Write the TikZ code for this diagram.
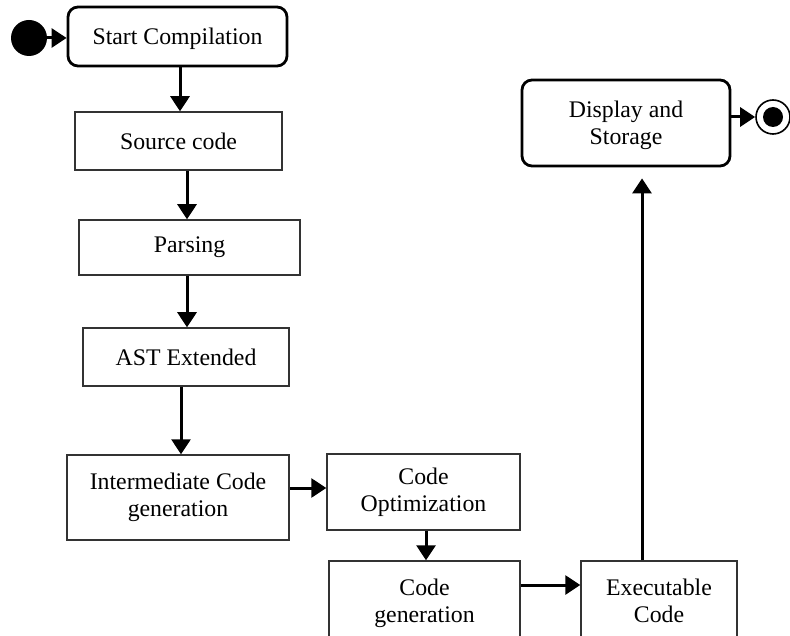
\documentclass[tikz,border=0pt]{standalone}
\usepackage{fontspec}
\setmainfont{Liberation Serif}
\usetikzlibrary{arrows.meta}
\begin{document}
\begin{tikzpicture}[x=1pt,y=-1pt,
  every node/.style={font=\fontsize{23.8}{27}\selectfont, align=center, inner sep=0pt},
  stepbox/.style={draw=black!80, line width=1.5pt, fill=white},
  roundbox/.style={draw=black, line width=2.8pt, rounded corners=10pt, fill=white},
  arr/.style={line width=3pt, -{Triangle[length=15pt,width=19pt]}}]
\useasboundingbox (0,0) rectangle (790,636);
\clip (0,0) rectangle (790,636);

% start and end markers
\node[circle, fill=black, minimum size=36pt] (init) at (29,38) {};
\node[circle, draw=black, line width=1.6pt, minimum size=34pt, fill=white] (final) at (773,117) {};
\node[circle, fill=black, minimum size=20pt] (finaldot) at (773,117) {};

% activities
\node[roundbox, minimum width=219pt, minimum height=59pt] (start) at (177.5,36.5)
  {\raisebox{-8.5pt}[0pt][0pt]{Start Compilation}};
\node[stepbox, minimum width=207pt, minimum height=58pt] (src) at (178.5,141) {Source code};
\node[stepbox, minimum width=221pt, minimum height=55pt] (parse) at (189.5,247.5) {Parsing};
\node[stepbox, minimum width=206pt, minimum height=58pt] (ast) at (186,357) {AST Extended};
\node[stepbox, minimum width=222pt, minimum height=85pt] (icg) at (178,497.5) {Intermediate Code\\generation};
\node[stepbox, minimum width=193pt, minimum height=76pt] (opt) at (423.5,492) {Code\\Optimization};
\node[stepbox, minimum width=191pt, minimum height=84pt] (cgen) at (424.5,603) {Code\\generation};
\node[stepbox, minimum width=156pt, minimum height=80pt] (exec) at (659,601) {Executable\\Code};
\node[roundbox, minimum width=208pt, minimum height=86pt] (disp) at (626,123)
  {\raisebox{5pt}[0pt][0pt]{\begin{tabular}[t]{@{}c@{}}Display and\\Storage\end{tabular}}};

% control flow
\draw[arr] (init.east |- 0,38) -- (start.west |- 0,38);
\draw[arr] (start.south -| 180,0) -- (src.north -| 180,0);
\draw[arr] (src.south -| 187,0) -- (parse.north -| 187,0);
\draw[arr] (parse.south -| 187,0) -- (ast.north -| 187,0);
\draw[arr] (ast.south -| 181,0) -- (icg.north -| 181,0);
\draw[arr] (icg.east |- 0,488) -- (opt.west |- 0,488);
\draw[arr] (opt.south -| 426,0) -- (cgen.north -| 426,0);
\draw[arr] (cgen.east |- 0,585) -- (exec.west |- 0,585);
\draw[arr, shorten >=11pt] (exec.north -| 642,0) -- (disp.south -| 642,0);
\draw[arr] (disp.east |- 0,117) -- (final.west);
\end{tikzpicture}
\end{document}
